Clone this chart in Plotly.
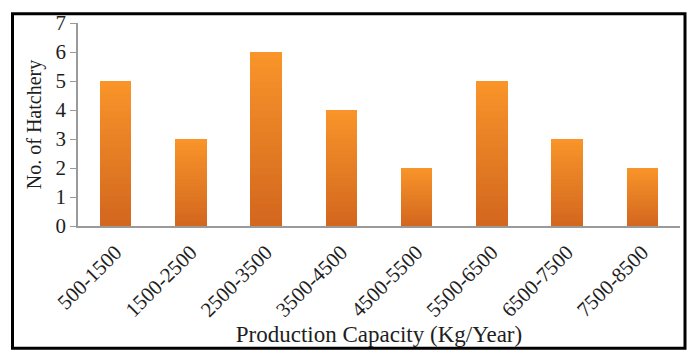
import plotly.graph_objects as go

# Number of hatcheries per production-capacity class
capacity_classes = ["500-1500", "1500-2500", "2500-3500", "3500-4500",
                    "4500-5500", "5500-6500", "6500-7500", "7500-8500"]
hatcheries = [5, 3, 6, 4, 2, 5, 3, 2]

W, H = 691, 356
L, R, T, B = 78, 11, 16, 130

# Vertical orange gradient on each bar: stack thin slices, dark at base, light at top
n_slices = 24
bottom_rgb = (210, 102, 30)
top_rgb = (249, 149, 42)

fig = go.Figure()
for k in range(n_slices):
    f = (k + 0.5) / n_slices
    rgb = tuple(round(b + (t - b) * f) for b, t in zip(bottom_rgb, top_rgb))
    fig.add_trace(go.Bar(
        x=capacity_classes,
        y=[v / n_slices for v in hatcheries],
        marker=dict(color="rgb(%d,%d,%d)" % rgb, line=dict(width=0)),
        hoverinfo="skip",
        showlegend=False,
    ))

# Outer black frame around the whole chart (page pixels -> paper coords)
pw, ph = W - L - R, H - T - B
def px(x):
    return (x - L) / pw
def py(y):
    return (H - B - y) / ph

fig.add_shape(type="rect", xref="paper", yref="paper",
              x0=px(12.5), x1=px(685), y0=py(6.5), y1=py(352.5),
              line=dict(color="black", width=3), fillcolor="rgba(0,0,0,0)")

font = "Liberation Serif, Times New Roman, serif"
fig.update_layout(
    width=W, height=H,
    margin=dict(l=L, r=R, t=T, b=B),
    paper_bgcolor="white", plot_bgcolor="white",
    barmode="stack", bargap=0.58,
    font=dict(family=font, size=21, color="#1e1e1e"),
    xaxis=dict(
        tickangle=-45, showgrid=False, showline=True, linecolor="#9a9a9a",
        linewidth=1.5, ticks="outside", ticklen=4, tickcolor="rgba(0,0,0,0)",
        tickfont=dict(size=21),
        title=dict(text="Production Capacity (Kg/Year)", font=dict(size=23), standoff=2),
    ),
    yaxis=dict(
        range=[0, 7], dtick=1, showgrid=False, showline=True, linecolor="#9a9a9a",
        linewidth=1.5, ticks="outside", ticklen=6, tickcolor="#9a9a9a",
        tickfont=dict(size=21), zeroline=False,
        title=dict(text="No. of Hatchery", font=dict(size=20), standoff=9),
    ),
)

fig.write_html("out.html")
